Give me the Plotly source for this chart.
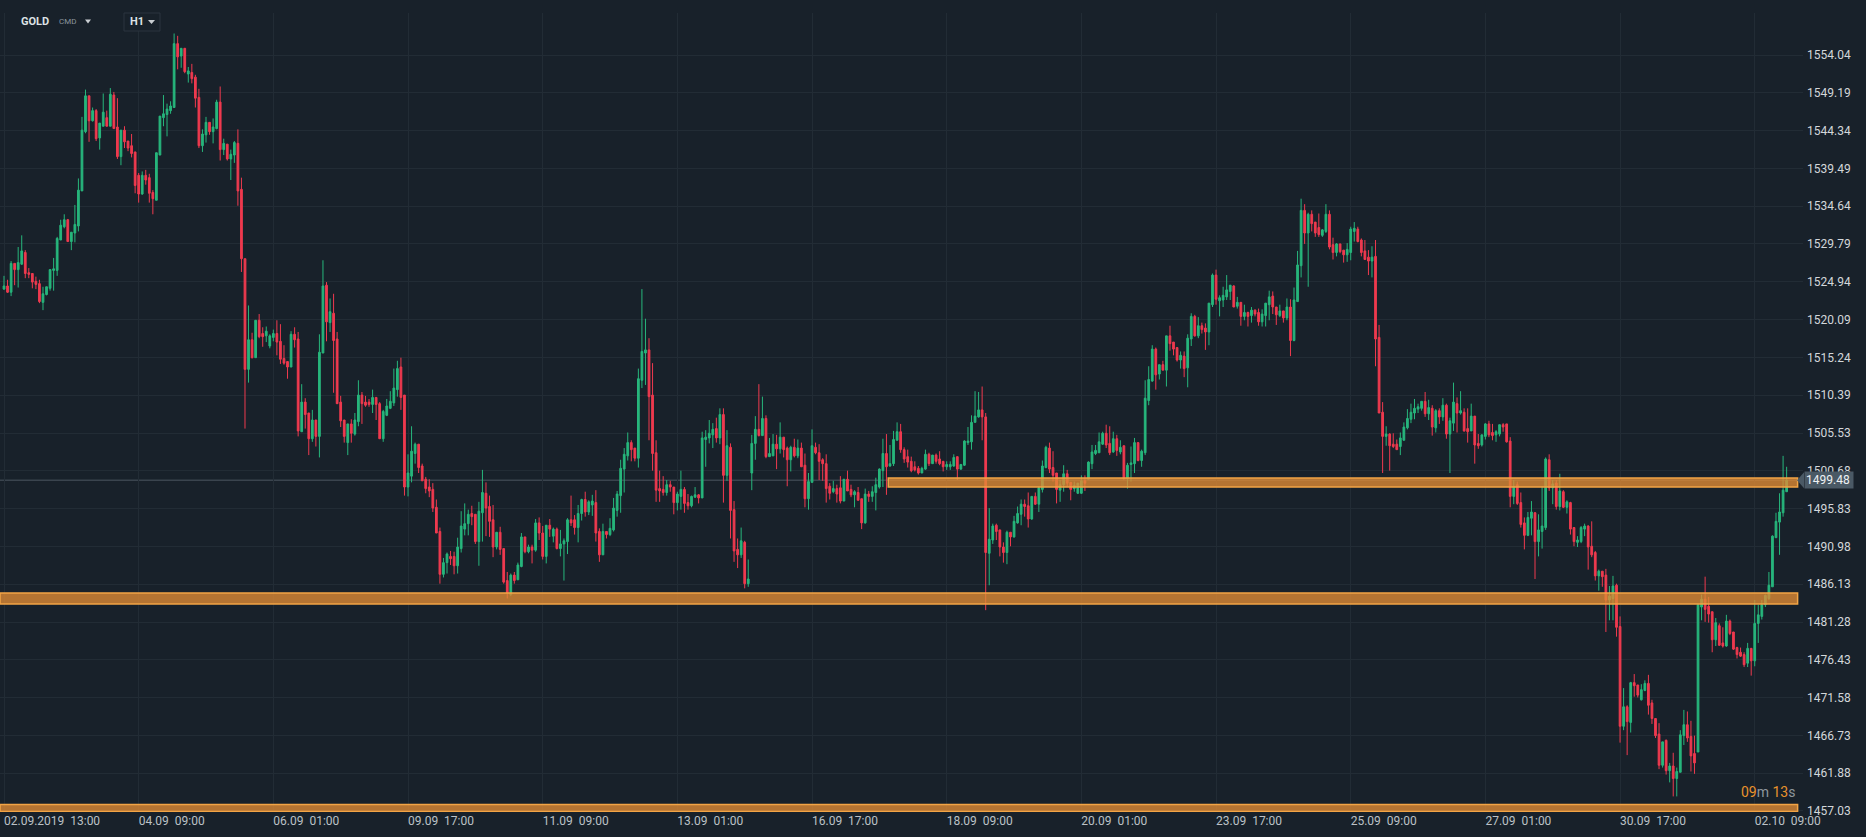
import plotly.graph_objects as go

# ---------------- data (H1 candles) ----------------
OPEN = [
1524.0,1524.4,1523.6,1527.3,1526.5,1527.2,1528.7,1526.1,1526.0,1525.0,
1524.7,1522.3,1523.3,1524.1,1526.4,1526.4,1530.3,1532.0,1532.9,1530.1,
1531.2,1532.1,1536.6,1544.2,1548.8,1545.6,1546.9,1543.4,1544.9,1546.0,
1544.9,1548.9,1544.8,1541.0,1544.4,1543.0,1542.4,1541.6,1538.6,1536.2,
1538.6,1538.3,1536.4,1535.4,1541.2,1546.0,1546.4,1546.9,1547.3,1555.5,
1553.9,1554.9,1551.6,1551.8,1551.2,1548.6,1542.4,1543.8,1545.4,1544.2,
1544.6,1548.0,1541.9,1542.6,1540.7,1541.2,1542.7,1536.8,1527.9,1513.7,
1517.5,1515.2,1520.0,1518.3,1518.0,1516.7,1517.8,1518.3,1517.3,1515.1,
1514.7,1514.0,1518.2,1517.6,1505.7,1509.5,1508.1,1504.8,1507.2,1505.1,
1515.8,1524.5,1519.7,1520.9,1517.6,1509.5,1507.2,1504.3,1506.7,1505.4,
1507.0,1510.4,1509.5,1509.5,1509.2,1510.1,1509.3,1504.8,1507.8,1508.7,
1509.4,1511.1,1514.0,1510.4,1498.6,1500.0,1502.9,1504.1,1501.3,1499.6,
1498.6,1498.3,1496.0,1492.9,1487.4,1488.9,1489.7,1489.7,1488.5,1490.7,
1493.2,1493.9,1495.2,1495.1,1491.6,1495.3,1497.8,1496.1,1494.4,1490.9,
1492.8,1490.7,1486.6,1484.8,1487.3,1486.7,1488.4,1492.2,1490.3,1490.9,
1490.5,1494.0,1492.7,1489.7,1493.7,1492.3,1493.2,1490.7,1491.3,1491.6,
1494.4,1494.4,1493.4,1495.2,1497.0,1495.4,1496.3,1496.6,1492.9,1489.9,
1492.9,1492.5,1493.1,1495.6,1497.5,1500.9,1502.6,1504.3,1503.6,1502.3,
1512.3,1515.8,1516.2,1510.4,1503.0,1498.4,1498.3,1497.9,1498.9,1498.6,
1496.6,1497.4,1498.3,1496.6,1496.2,1497.3,1497.6,1497.2,1504.7,1504.9,
1505.3,1506.1,1504.9,1507.9,1500.1,1503.7,1495.7,1490.6,1489.9,1491.5,
1486.2,1500.4,1504.2,1506.0,1505.2,1507.4,1502.5,1502.6,1504.1,1503.5,
1505.0,1503.6,1502.1,1503.7,1502.6,1503.6,1501.4,1497.1,1499.2,1503.7,
1503.0,1502.1,1501.6,1498.7,1498.0,1498.4,1498.5,1496.8,1499.6,1498.3,
1497.6,1497.9,1497.1,1494.0,1497.7,1497.4,1497.9,1498.6,1500.7,1502.9,
1501.3,1501.6,1504.6,1505.7,1503.4,1502.5,1501.9,1501.2,1501.0,1500.4,
1500.9,1502.8,1501.6,1502.7,1502.2,1501.9,1501.2,1501.2,1501.3,1502.5,
1500.9,1501.4,1504.3,1504.4,1506.9,1507.6,1508.5,1507.6,1490.1,1491.8,
1493.7,1493.1,1490.9,1490.2,1492.8,1492.2,1494.0,1495.1,1496.4,1496.2,
1494.5,1497.4,1496.4,1498.3,1501.1,1503.6,1501.1,1500.4,1498.2,1498.9,
1500.3,1499.2,1498.4,1497.8,1497.8,1499.4,1499.6,1501.6,1502.9,1503.0,
1504.1,1505.5,1504.2,1503.1,1504.8,1503.1,1503.9,1499.7,1501.5,1501.6,
1504.3,1502.0,1503.0,1509.7,1512.2,1516.3,1513.1,1514.3,1513.6,1518.0,
1517.2,1516.5,1514.9,1515.4,1513.9,1517.6,1520.5,1518.0,1519.3,1519.0,
1518.5,1522.0,1525.8,1522.5,1522.6,1523.0,1523.7,1524.4,1521.8,1522.3,
1520.5,1521.0,1520.6,1521.3,1521.0,1519.8,1520.6,1522.0,1523.1,1521.7,
1520.6,1521.2,1520.3,1521.7,1517.4,1522.4,1527.0,1534.1,1531.2,1533.6,
1532.6,1531.9,1530.9,1531.4,1533.6,1529.7,1528.7,1529.8,1529.0,1528.4,
1528.7,1531.4,1531.7,1530.3,1528.9,1528.1,1527.6,1528.2,1517.8,1508.2,
1505.1,1505.4,1504.1,1504.1,1503.8,1504.6,1506.2,1507.3,1508.1,1508.6,
1508.7,1509.6,1508.0,1508.7,1506.2,1508.4,1507.6,1509.1,1505.4,1506.8,
1509.3,1508.1,1508.2,1506.1,1505.8,1507.7,1504.2,1504.0,1505.1,1506.7,
1505.6,1505.3,1505.4,1506.6,1506.7,1504.5,1497.4,1498.9,1496.6,1494.0,
1492.4,1494.6,1495.3,1491.6,1492.9,1493.4,1502.1,1498.5,1499.1,1496.1,
1498.0,1496.0,1496.6,1493.4,1491.5,1491.6,1493.2,1493.6,1491.0,1490.2,
1487.2,1487.8,1487.3,1484.1,1484.3,1486.0,1480.7,1467.9,1470.4,1468.4,
1473.5,1473.2,1471.3,1472.5,1473.4,1470.9,1468.9,1466.9,1462.9,1466.1,
1462.2,1462.8,1461.2,1462.0,1466.7,1468.1,1466.6,1464.4,1464.6,1483.2,
1484.2,1483.3,1482.6,1479.0,1480.8,1478.6,1478.2,1481.4,1480.0,1478.0,
1477.4,1477.1,1476.0,1477.9,1476.3,1481.1,1482.0,1483.5,1484.3,1485.8,
1492.1,1494.1,1495.3,1498.0,
]

HIGH = [
1525.7,1525.2,1527.6,1527.3,1529.4,1530.9,1529.0,1526.7,1526.0,1525.6,
1525.2,1524.3,1524.3,1526.5,1528.0,1530.7,1532.9,1533.6,1533.0,1531.3,
1534.8,1538.2,1546.1,1549.6,1548.8,1547.3,1547.1,1545.3,1549.1,1546.9,
1549.8,1549.3,1548.5,1544.4,1544.9,1543.0,1543.9,1541.6,1538.9,1539.1,
1539.3,1538.8,1536.7,1541.5,1546.2,1548.9,1547.8,1548.1,1556.8,1556.5,
1554.9,1554.9,1552.5,1552.9,1551.5,1549.7,1544.5,1546.1,1545.4,1545.9,
1548.3,1550.0,1543.3,1542.6,1541.9,1543.0,1544.5,1538.3,1527.9,1521.9,
1518.4,1520.0,1520.8,1519.1,1519.2,1518.2,1518.8,1520.0,1519.5,1516.8,
1514.7,1518.6,1519.1,1518.5,1511.8,1510.0,1508.1,1508.5,1507.2,1518.2,
1527.7,1524.9,1522.8,1523.4,1518.5,1510.3,1507.2,1506.7,1507.3,1508.1,
1512.3,1510.8,1510.3,1509.9,1511.1,1510.1,1509.5,1508.5,1509.9,1510.9,
1513.8,1514.8,1515.2,1510.4,1502.8,1506.4,1504.3,1504.1,1501.6,1499.9,
1499.6,1499.1,1497.0,1493.4,1489.5,1490.2,1490.4,1490.3,1492.1,1495.5,
1496.5,1495.7,1496.2,1495.1,1496.7,1500.8,1499.2,1497.5,1496.3,1492.8,
1493.5,1490.7,1487.7,1487.5,1487.7,1488.9,1492.7,1492.2,1491.2,1491.2,
1494.5,1494.7,1493.6,1493.7,1494.5,1493.4,1493.4,1493.1,1492.0,1494.6,
1497.5,1495.0,1496.3,1497.1,1498.0,1496.9,1497.6,1498.2,1493.3,1493.9,
1492.9,1494.6,1497.2,1498.1,1502.1,1503.6,1505.6,1504.6,1503.6,1513.8,
1524.0,1520.2,1517.7,1514.5,1504.6,1500.7,1500.0,1499.5,1499.4,1498.6,
1498.0,1500.7,1498.6,1497.7,1497.5,1498.6,1497.7,1505.7,1505.9,1507.2,
1506.8,1507.5,1508.7,1508.7,1505.9,1504.2,1496.8,1492.0,1493.4,1491.7,
1489.3,1505.3,1507.7,1511.8,1510.2,1507.8,1504.9,1505.4,1505.3,1506.9,
1505.0,1503.8,1503.9,1504.8,1504.7,1504.3,1502.9,1500.4,1506.0,1504.3,
1504.1,1502.3,1502.8,1499.1,1499.4,1498.9,1500.0,1499.6,1500.7,1498.9,
1498.2,1498.6,1497.1,1498.4,1498.1,1498.7,1499.8,1501.0,1504.8,1505.4,
1504.0,1505.8,1506.9,1506.7,1503.7,1503.4,1502.5,1501.9,1501.3,1501.2,
1503.4,1503.0,1502.7,1502.9,1503.2,1501.9,1501.9,1501.9,1502.8,1502.5,
1501.5,1504.6,1506.3,1507.8,1510.9,1510.8,1511.5,1508.1,1495.9,1493.9,
1493.9,1493.1,1491.5,1493.0,1492.8,1494.9,1496.1,1497.0,1497.0,1497.9,
1497.4,1497.9,1498.6,1502.0,1503.9,1504.3,1503.2,1500.4,1499.5,1501.4,
1500.8,1499.2,1499.3,1499.1,1500.1,1500.1,1501.9,1504.0,1504.0,1505.6,
1505.7,1506.6,1506.4,1505.7,1505.3,1504.6,1503.9,1501.7,1503.8,1504.9,
1504.3,1503.4,1512.3,1514.1,1516.8,1516.5,1514.3,1514.8,1518.0,1519.3,
1517.2,1516.5,1516.0,1516.0,1518.2,1520.9,1520.7,1520.4,1519.7,1519.6,
1522.2,1526.0,1526.5,1523.2,1524.3,1525.8,1524.5,1524.5,1523.0,1522.3,
1522.0,1521.1,1521.7,1521.4,1521.5,1521.4,1522.2,1523.8,1523.7,1521.7,
1522.0,1521.2,1522.8,1522.7,1524.2,1528.9,1535.6,1534.9,1533.8,1534.1,
1532.6,1533.7,1531.7,1534.9,1534.1,1530.6,1529.9,1529.8,1529.0,1529.9,
1532.0,1532.6,1532.0,1530.5,1530.3,1529.0,1529.5,1530.3,1519.4,1509.5,
1506.4,1505.5,1505.5,1504.7,1505.6,1506.9,1508.6,1509.3,1509.9,1509.3,
1509.6,1510.8,1509.8,1509.1,1508.6,1508.7,1510.0,1509.3,1507.5,1512.0,
1510.1,1510.9,1508.7,1508.7,1509.3,1507.7,1505.4,1505.3,1506.8,1507.1,
1506.7,1505.9,1506.6,1506.8,1506.7,1505.0,1499.5,1499.3,1497.9,1494.7,
1495.4,1496.8,1495.4,1495.1,1498.7,1502.4,1502.8,1499.5,1499.5,1500.3,
1498.2,1496.9,1496.7,1493.4,1492.3,1493.6,1493.9,1493.7,1494.2,1490.4,
1488.0,1487.8,1488.1,1485.9,1487.2,1486.2,1482.0,1472.8,1470.6,1473.6,
1474.6,1473.2,1473.3,1473.8,1474.5,1471.3,1468.9,1468.3,1465.9,1466.2,
1463.2,1464.5,1462.6,1467.4,1470.0,1469.8,1468.6,1466.7,1483.5,1484.8,
1487.1,1484.5,1482.6,1481.8,1481.1,1480.6,1482.2,1481.6,1480.0,1478.1,
1478.0,1477.4,1478.6,1477.9,1484.1,1483.5,1484.1,1484.8,1487.7,1492.4,
1495.3,1497.8,1502.6,1501.2,
]

LOW = [
1523.9,1523.5,1523.1,1524.5,1524.2,1527.1,1525.4,1525.4,1524.1,1524.0,
1522.2,1521.3,1523.2,1523.8,1523.8,1525.7,1530.3,1531.8,1530.1,1529.0,
1530.0,1531.4,1536.6,1544.0,1542.9,1545.5,1543.0,1541.9,1544.9,1544.9,
1544.9,1544.6,1540.7,1539.9,1542.1,1541.7,1540.9,1536.3,1535.1,1536.1,
1537.4,1535.1,1533.6,1535.4,1541.2,1544.9,1543.6,1546.5,1547.3,1552.2,
1552.4,1551.7,1550.5,1550.4,1547.3,1542.1,1541.6,1542.8,1543.8,1542.7,
1544.5,1540.5,1541.2,1540.5,1538.0,1540.2,1534.7,1526.2,1506.1,1512.0,
1515.1,1515.2,1517.7,1516.6,1517.2,1516.4,1517.3,1515.5,1514.4,1514.3,
1512.5,1514.0,1516.5,1505.1,1505.7,1506.1,1502.7,1504.4,1503.8,1502.4,
1515.8,1517.3,1518.5,1510.7,1509.3,1506.3,1504.3,1502.7,1504.3,1505.2,
1506.4,1506.7,1508.9,1508.9,1508.1,1507.2,1504.8,1504.4,1507.7,1508.6,
1509.0,1510.2,1508.5,1497.5,1497.4,1499.2,1501.6,1500.4,1499.4,1497.8,
1497.3,1495.4,1492.7,1486.2,1487.0,1487.5,1488.6,1487.4,1487.5,1490.2,
1492.4,1492.4,1493.7,1491.3,1488.5,1491.6,1492.3,1492.2,1489.6,1490.6,
1489.9,1486.2,1484.3,1484.6,1486.2,1486.7,1488.3,1490.1,1490.1,1488.8,
1490.3,1491.8,1489.3,1488.8,1492.2,1491.5,1490.6,1489.7,1486.6,1490.0,
1493.6,1492.5,1491.5,1494.3,1494.8,1495.0,1494.9,1491.6,1489.0,1489.9,
1492.0,1492.3,1492.9,1494.8,1495.3,1497.9,1502.0,1501.9,1501.9,1501.1,
1511.3,1511.7,1504.6,1500.7,1496.7,1496.7,1497.5,1497.5,1498.0,1495.1,
1495.6,1495.7,1495.3,1495.7,1496.0,1497.2,1496.5,1497.2,1501.2,1504.2,
1503.6,1504.3,1504.1,1496.6,1499.4,1492.0,1489.0,1488.2,1489.5,1485.6,
1485.8,1498.2,1502.1,1505.1,1505.2,1502.3,1502.5,1502.6,1500.9,1502.9,
1502.4,1498.7,1500.6,1502.4,1502.3,1501.2,1496.0,1495.7,1499.2,1502.8,
1499.5,1499.4,1496.6,1497.0,1497.8,1496.6,1496.5,1496.8,1498.1,1497.3,
1496.0,1496.9,1493.2,1493.9,1496.7,1496.7,1495.6,1498.4,1498.6,1497.6,
1501.2,1501.3,1504.6,1503.0,1501.7,1501.1,1500.5,1500.6,1500.2,1500.4,
1500.8,1501.3,1501.6,1501.6,1501.4,1500.6,1500.8,1500.8,1501.2,1499.5,
1500.8,1501.3,1504.0,1503.4,1506.9,1507.5,1504.6,1482.8,1486.0,1491.3,
1491.8,1489.7,1488.9,1488.7,1491.0,1492.1,1493.9,1493.7,1494.8,1493.4,
1494.4,1496.3,1495.4,1497.9,1501.0,1500.4,1499.3,1496.5,1496.7,1498.0,
1498.6,1496.9,1498.0,1497.7,1497.7,1498.1,1499.6,1500.9,1502.7,1503.0,
1504.0,1503.6,1502.7,1503.0,1502.6,1502.8,1499.5,1498.4,1499.3,1500.4,
1501.9,1501.2,1502.7,1509.1,1512.1,1511.1,1512.4,1513.6,1511.5,1516.1,
1515.5,1514.7,1513.8,1512.7,1511.4,1516.7,1517.9,1517.7,1518.3,1516.2,
1516.8,1521.7,1522.0,1520.5,1521.7,1522.6,1522.6,1521.7,1521.5,1519.3,
1520.0,1519.2,1519.7,1520.5,1519.3,1519.2,1519.2,1520.0,1520.8,1519.4,
1520.4,1519.7,1520.0,1515.4,1517.3,1522.4,1525.5,1529.8,1524.3,1531.4,
1530.7,1530.7,1530.7,1531.2,1529.1,1527.8,1528.2,1528.6,1527.4,1527.5,
1527.7,1530.1,1530.0,1528.2,1527.8,1525.8,1525.5,1514.1,1508.1,1500.4,
1503.9,1500.7,1503.6,1503.4,1502.7,1504.6,1506.0,1506.8,1507.3,1508.1,
1508.4,1507.6,1507.2,1505.2,1505.6,1506.7,1507.1,1504.8,1500.4,1505.8,
1505.6,1507.9,1505.7,1504.3,1505.8,1501.6,1503.5,1503.8,1504.7,1505.0,
1504.6,1504.4,1505.1,1505.7,1504.3,1496.0,1496.4,1496.3,1493.4,1490.6,
1492.3,1492.4,1486.8,1489.7,1490.7,1493.1,1498.1,1496.4,1495.7,1495.6,
1495.9,1495.2,1492.5,1491.0,1490.9,1491.4,1492.3,1488.0,1489.6,1486.6,
1485.3,1485.8,1480.0,1481.5,1481.5,1479.4,1465.8,1467.4,1464.2,1467.1,
1471.7,1471.6,1471.2,1472.4,1469.4,1468.2,1466.4,1462.4,1462.6,1461.7,
1460.7,1458.9,1458.9,1462.0,1465.5,1465.9,1462.1,1461.8,1464.6,1481.5,
1481.3,1481.2,1477.4,1478.2,1478.2,1478.0,1478.1,1479.6,1477.7,1476.6,
1476.8,1475.5,1475.5,1474.4,1475.6,1478.6,1481.6,1483.2,1484.1,1485.8,
1492.1,1489.9,1494.8,1498.0,
]

CLOSE = [
1524.4,1523.6,1527.3,1526.5,1527.4,1528.9,1526.0,1525.9,1524.9,1524.6,
1522.4,1523.4,1524.3,1526.5,1526.6,1530.5,1532.2,1532.9,1530.1,1531.3,
1532.3,1536.7,1544.4,1548.8,1545.6,1546.9,1543.3,1545.3,1546.7,1544.9,
1549.0,1544.6,1541.0,1544.4,1542.9,1542.1,1541.4,1537.3,1536.2,1538.6,
1538.0,1536.3,1535.6,1541.5,1546.2,1546.5,1547.1,1547.5,1555.5,1553.8,
1554.9,1551.9,1552.0,1551.0,1548.5,1542.4,1543.9,1545.4,1544.2,1544.8,
1548.0,1541.9,1542.7,1540.7,1541.3,1542.8,1536.6,1527.9,1513.7,1517.5,
1515.2,1520.0,1517.9,1517.9,1518.6,1518.0,1518.3,1517.2,1515.0,1514.5,
1514.0,1518.2,1517.5,1505.8,1509.5,1507.9,1504.8,1507.2,1505.1,1515.9,
1524.4,1519.8,1521.1,1517.4,1509.3,1507.1,1505.1,1506.7,1505.5,1507.2,
1510.4,1509.3,1509.1,1509.2,1510.1,1509.2,1504.8,1508.3,1509.0,1509.6,
1511.3,1513.8,1510.1,1498.6,1500.4,1503.2,1504.1,1501.1,1499.4,1498.4,
1498.1,1495.9,1492.7,1487.4,1488.9,1490.0,1489.4,1488.5,1490.9,1493.6,
1493.9,1495.1,1494.8,1491.6,1495.5,1497.9,1495.9,1494.2,1490.9,1492.8,
1490.6,1486.4,1485.0,1487.3,1486.6,1488.6,1492.2,1490.3,1490.9,1490.5,
1494.0,1492.7,1489.7,1493.7,1493.2,1493.2,1490.7,1491.3,1491.7,1494.4,
1494.0,1493.4,1495.2,1497.0,1495.4,1496.7,1496.8,1492.7,1489.9,1492.9,
1492.5,1493.3,1495.9,1497.7,1501.0,1502.8,1504.3,1503.4,1502.3,1512.5,
1516.0,1516.2,1510.2,1502.9,1498.2,1498.1,1497.9,1498.9,1498.6,1496.6,
1497.7,1498.3,1496.5,1496.2,1497.4,1497.6,1497.2,1504.9,1505.0,1505.5,
1506.0,1504.9,1507.9,1500.1,1503.9,1495.6,1490.4,1489.9,1491.7,1486.2,
1486.8,1504.2,1506.0,1505.2,1507.4,1502.5,1502.9,1504.1,1503.5,1505.0,
1503.4,1502.1,1503.7,1502.6,1503.6,1501.2,1497.1,1499.3,1503.9,1503.0,
1501.9,1501.6,1498.4,1497.8,1498.4,1497.7,1496.8,1499.6,1498.1,1497.6,
1498.0,1496.9,1494.0,1497.7,1497.4,1498.0,1498.9,1500.9,1502.9,1501.2,
1501.6,1504.7,1505.7,1503.4,1502.2,1501.8,1500.7,1500.8,1500.4,1501.0,
1502.8,1501.6,1502.7,1501.9,1501.6,1501.2,1501.5,1501.5,1502.4,1500.9,
1501.5,1504.5,1504.5,1506.9,1507.7,1508.5,1507.6,1490.2,1491.9,1493.6,
1492.9,1490.9,1490.2,1492.8,1492.2,1494.2,1495.2,1496.4,1496.1,1494.5,
1497.4,1496.4,1498.5,1501.3,1503.7,1500.9,1500.1,1498.3,1498.9,1500.3,
1499.1,1498.3,1498.8,1499.1,1499.4,1499.1,1501.8,1503.1,1503.3,1504.4,
1505.5,1504.0,1503.0,1504.8,1503.3,1503.7,1499.7,1501.4,1501.7,1504.3,
1502.0,1503.2,1510.0,1512.4,1516.3,1513.0,1514.3,1513.6,1518.0,1517.0,
1516.3,1514.9,1515.5,1513.8,1517.7,1520.5,1518.0,1519.3,1518.8,1518.5,
1522.2,1525.8,1522.7,1522.9,1523.2,1523.9,1524.5,1521.7,1522.3,1520.5,
1521.0,1520.5,1521.3,1520.8,1519.8,1520.8,1522.2,1523.0,1521.7,1520.7,
1521.2,1520.3,1521.7,1517.4,1522.6,1527.1,1534.1,1531.2,1533.6,1532.4,
1531.2,1531.0,1531.6,1533.6,1529.4,1528.7,1529.8,1528.8,1528.4,1529.1,
1531.7,1531.8,1530.1,1528.7,1527.8,1527.6,1528.1,1517.6,1508.1,1505.1,
1505.4,1503.9,1503.8,1503.4,1504.9,1506.3,1507.4,1508.2,1508.7,1508.9,
1509.6,1508.0,1508.8,1506.3,1508.4,1507.6,1509.1,1505.4,1507.1,1509.5,
1508.1,1508.4,1505.8,1505.7,1507.7,1504.0,1503.9,1505.3,1506.7,1505.3,
1505.2,1505.7,1506.6,1506.3,1504.4,1497.4,1498.7,1496.5,1493.8,1492.4,
1494.7,1495.4,1491.6,1493.1,1493.6,1502.2,1498.5,1499.0,1496.1,1498.1,
1496.0,1496.7,1493.2,1491.6,1491.8,1493.4,1493.6,1490.9,1489.9,1487.2,
1487.8,1487.1,1484.1,1484.6,1485.9,1480.6,1467.9,1470.4,1468.5,1473.5,
1473.1,1471.9,1472.6,1473.4,1470.6,1468.9,1466.7,1462.9,1465.9,1462.2,
1462.8,1461.2,1462.1,1466.8,1468.1,1466.4,1464.1,1463.2,1483.5,1484.2,
1482.9,1482.3,1479.0,1481.2,1478.3,1478.2,1481.4,1479.8,1477.8,1477.1,
1476.9,1475.8,1477.9,1476.3,1481.1,1482.2,1483.5,1484.7,1486.0,1492.3,
1494.2,1495.4,1498.2,1499.48,
]

N = len(CLOSE)
assert len(OPEN) == N and len(HIGH) == N and len(LOW) == N, (len(OPEN), len(HIGH), len(LOW), N)
CANDLE_INDEX = list(range(N))

X_TICK_INDEX = [0, 38, 76, 114, 152, 190, 228, 266, 304, 342, 380, 418, 456, 494]
X_TICK_LABELS = ["02.09.2019  13:00", "04.09  09:00", "06.09  01:00", "09.09  17:00",
                 "11.09  09:00", "13.09  01:00", "16.09  17:00", "18.09  09:00",
                 "20.09  01:00", "23.09  17:00", "25.09  09:00", "27.09  01:00",
                 "30.09  17:00", "02.10  09:00"]
Y_TICK_LABELS = ["1457.03", "1461.88", "1466.73", "1471.58", "1476.43", "1481.28",
                 "1486.13", "1490.98", "1495.83", "1500.68", "1505.53", "1510.39",
                 "1515.24", "1520.09", "1524.94", "1529.79", "1534.64", "1539.49",
                 "1544.34", "1549.19", "1554.04"]

CURRENT_PRICE = 1499.48
UPPER_BAND = (1498.6, 1499.76)
LOWER_BAND = (1483.6, 1485.0)
BOTTOM_BAND = (1456.95, 1457.85)
UPPER_BAND_START = 249.5
COUNTDOWN = ("09", "13")

# sanitize highs/lows so they always enclose the body
HIGH = [max(h, o, c) for h, o, c in zip(HIGH, OPEN, CLOSE)]
LOW = [min(l, o, c) for l, o, c in zip(LOW, OPEN, CLOSE)]

# ---------------- style / geometry ----------------
W, H = 1866, 837
PL, PR, PT, PB = 0, 1803, 13, 812
BG = "#18212a"
GRID = "#222c35"
GREEN = "#27b67c"
RED = "#ef3a4f"
ORANGE_FILL = "rgba(226,140,52,0.78)"
ORANGE_LINE = "#f2a445"
FONT = "Roboto"

X_RANGE = [-1.129, 507.62]
Y_RANGE = [1456.90, 1559.43]
BAND_END = 506.1


def xp(px):
    return (px - PL) / (PR - PL)


def yp(py):
    return (PB - py) / (PB - PT)


nb = "\u00a0"
xt = [t.replace("  ", nb + nb) for t in X_TICK_LABELS]

fig = go.Figure(go.Candlestick(
    x=CANDLE_INDEX, open=OPEN, high=HIGH, low=LOW, close=CLOSE,
    increasing=dict(line=dict(color=GREEN, width=1), fillcolor=GREEN),
    decreasing=dict(line=dict(color=RED, width=1), fillcolor=RED),
    whiskerwidth=0, hoverinfo="skip", showlegend=False,
))

shapes = []
# current price line
shapes.append(dict(type="line", xref="x", yref="y", x0=X_RANGE[0], x1=BAND_END,
                   y0=CURRENT_PRICE, y1=CURRENT_PRICE,
                   line=dict(color="#4c5761", width=1), layer="below"))
# orange bands
for (y0, y1), x0 in ((UPPER_BAND, UPPER_BAND_START), (LOWER_BAND, X_RANGE[0]),
                     (BOTTOM_BAND, X_RANGE[0])):
    shapes.append(dict(type="rect", xref="x", yref="y", x0=x0, x1=BAND_END, y0=y0, y1=y1,
                       fillcolor=ORANGE_FILL, line=dict(color=ORANGE_LINE, width=1.5),
                       layer="above"))
# price label pointer
dy = 1.03
shapes.append(dict(type="path", xref="paper", yref="y",
                   path=f"M {xp(1797)},{CURRENT_PRICE} L {xp(1804)},{CURRENT_PRICE + dy} "
                        f"L {xp(1804)},{CURRENT_PRICE - dy} Z",
                   fillcolor="#4a5965", line=dict(width=0), layer="above"))
# header H1 box
shapes.append(dict(type="rect", xref="paper", yref="paper",
                   x0=xp(124), x1=xp(160), y0=yp(31), y1=yp(13),
                   fillcolor=BG, line=dict(color="#2b353e", width=1), layer="above"))
# header small triangles
for (ax, ay, w, h) in ((85, 19.5, 6, 4), (148, 20, 7, 4)):
    shapes.append(dict(type="path", xref="paper", yref="paper",
                       path=f"M {xp(ax)},{yp(ay)} L {xp(ax + w)},{yp(ay)} L {xp(ax + w / 2)},{yp(ay + h)} Z",
                       fillcolor="#c9ced2", line=dict(width=0), layer="above"))

annotations = [
    dict(xref="paper", yref="y", x=xp(1804), y=CURRENT_PRICE, xanchor="left", yanchor="middle",
         text="1499.48", showarrow=False, bgcolor="#4a5965", width=46, align="left",
         borderpad=1, font=dict(family=FONT, size=12, color="#eef1f3")),
    dict(xref="paper", yref="paper", x=xp(1797), y=yp(792), xanchor="right", yanchor="middle",
         showarrow=False,
         text=(f"<span style='color:#e8922c'>{COUNTDOWN[0]}</span>m "
               f"<span style='color:#e8922c'>{COUNTDOWN[1]}</span>s"),
         font=dict(family=FONT, size=14, color="#8e969d")),
    dict(xref="paper", yref="paper", x=xp(19), y=yp(22), xanchor="left", yanchor="middle",
         text="<b>GOLD</b>", showarrow=False, font=dict(family=FONT, size=11, color="#dde1e4")),
    dict(xref="paper", yref="paper", x=xp(57), y=yp(22), xanchor="left", yanchor="middle",
         text="CMD", showarrow=False, font=dict(family=FONT, size=8, color="#8b959d")),
    dict(xref="paper", yref="paper", x=xp(128), y=yp(22), xanchor="left", yanchor="middle",
         text="<b>H1</b>", showarrow=False, font=dict(family=FONT, size=11, color="#dde1e4")),
]

fig.update_layout(
    width=W, height=H,
    margin=dict(l=PL, r=W - PR, t=PT, b=H - PB, pad=0),
    paper_bgcolor=BG, plot_bgcolor=BG,
    showlegend=False, hovermode=False,
    shapes=shapes, annotations=annotations,
    xaxis=dict(range=X_RANGE, tickmode="array", tickvals=X_TICK_INDEX, ticktext=xt,
               showgrid=True, gridcolor=GRID, gridwidth=1, zeroline=False, showline=False,
               ticks="", ticklabelposition="outside right",
               tickfont=dict(family=FONT, size=12, color="#bcc1c6"),
               rangeslider=dict(visible=False), fixedrange=True),
    yaxis=dict(range=Y_RANGE, side="right", tickmode="array",
               tickvals=[float(v) for v in Y_TICK_LABELS], ticktext=Y_TICK_LABELS,
               showgrid=True, gridcolor=GRID, gridwidth=1, zeroline=False, showline=False,
               ticks="", ticklabelstandoff=3,
               tickfont=dict(family=FONT, size=12, color="#d3d7da"), fixedrange=True),
)

fig.write_html("out.html", config={"displayModeBar": False, "staticPlot": True},
               post_script="document.body.style.margin='0';document.body.style.overflow='hidden';")
